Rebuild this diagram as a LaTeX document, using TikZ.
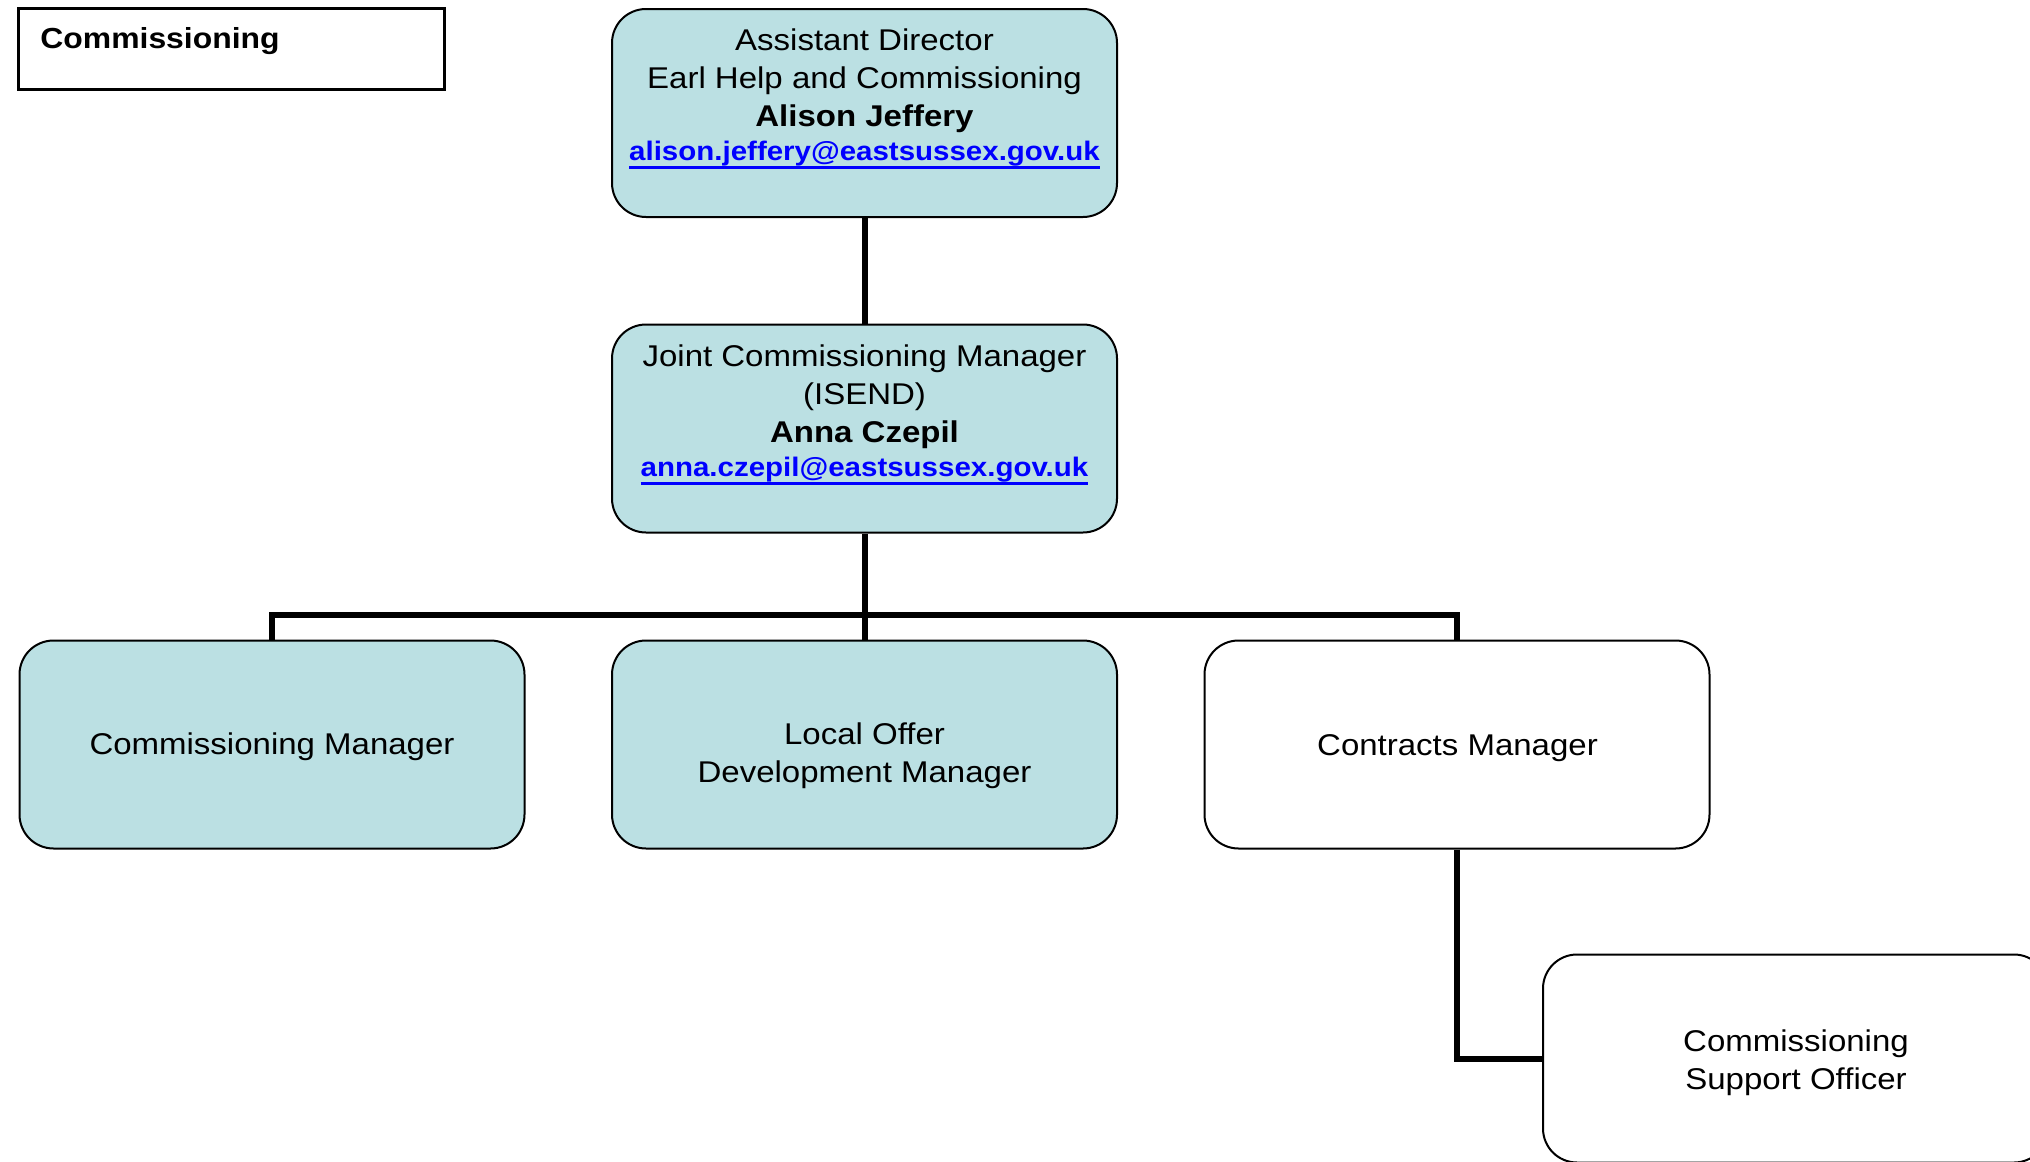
\documentclass[tikz,border=0pt]{standalone}
\usepackage{fontspec}
\setmainfont{Liberation Sans}[FakeStretch=1.1]
\definecolor{boxfill}{HTML}{BBE0E3}
\definecolor{linkblue}{HTML}{0000FF}
\newcommand\mailul[1]{\setbox0\hbox{#1}\rlap{\rule[-4pt]{\wd0}{1.3pt}}\box0}
\tikzset{
  orgbox/.style={draw=black, line width=1pt, rounded corners=17pt,
    minimum width=252.5pt, minimum height=104pt, inner sep=0pt},
  filledbox/.style={orgbox, fill=boxfill},
  plainbox/.style={orgbox, fill=white},
  conn/.style={line width=3pt, draw=black},
  txt/.style={inner sep=0pt, align=center, font=\fontsize{15}{19}\selectfont},
}
\newcommand\mailtext[1]{{\fontsize{13.4}{19}\selectfont\bfseries\color{linkblue}\mailul{#1}}}
\begin{document}
\begin{tikzpicture}[x=0.5pt, y=-0.5pt]
\useasboundingbox (0,0) rectangle (2030,1162);
\fill[white] (0,0) rectangle (2030,1162);

% title box
\node[draw=black, line width=1.2pt, minimum width=213pt, minimum height=40.5pt, inner sep=0pt] (titlebox) at (231.5,49) {};
\node[anchor=base west, inner sep=0pt, font=\fontsize{14.5}{17}\selectfont\bfseries] (titletxt) at (40,48.2) {Commissioning};

% boxes
\node[filledbox] (ad) at (864.5,113) {};
\node[filledbox] (jcm) at (864.5,428.5) {};
\node[filledbox] (cm) at (272,744.5) {};
\node[filledbox] (lo) at (864.5,744.5) {};
\node[plainbox] (cont) at (1457,744.5) {};
\node[plainbox] (sup) at (1795.5,1058.5) {};

% connectors
\coordinate (bar) at (864.5,614.5);
\draw[conn] (ad.south) -- (jcm.north);
\draw[conn] (jcm.south) -- (lo.north);
\draw[conn] (cm.north) |- (bar) -| (cont.north);
\draw[conn] (cont.south) |- (sup.west);

% texts
\node[txt, anchor=north] (adtxt) at (864.5,28.2)
  {Assistant Director\\Earl Help and Commissioning\\{\bfseries Alison Jeffery}\\[-1.8pt]\mailtext{alison.jeffery@eastsussex.gov.uk}};
\node[txt, anchor=north] (jcmtxt) at (864.5,344.2)
  {Joint Commissioning Manager\\(ISEND)\\{\bfseries Anna Czepil}\\[-1.8pt]\mailtext{anna.czepil@eastsussex.gov.uk}};
\node[txt, anchor=base] (cmtxt) at (272,754.6) {Commissioning Manager};
\node[txt, anchor=north] (lotxt) at (864.5,722.2) {Local Offer\\Development Manager};
\node[txt, anchor=base] (conttxt) at (1457.5,755) {Contracts Manager};
\node[txt, anchor=north] (suptxt) at (1796,1029.2) {Commissioning\\Support Officer};
\end{tikzpicture}
\end{document}
